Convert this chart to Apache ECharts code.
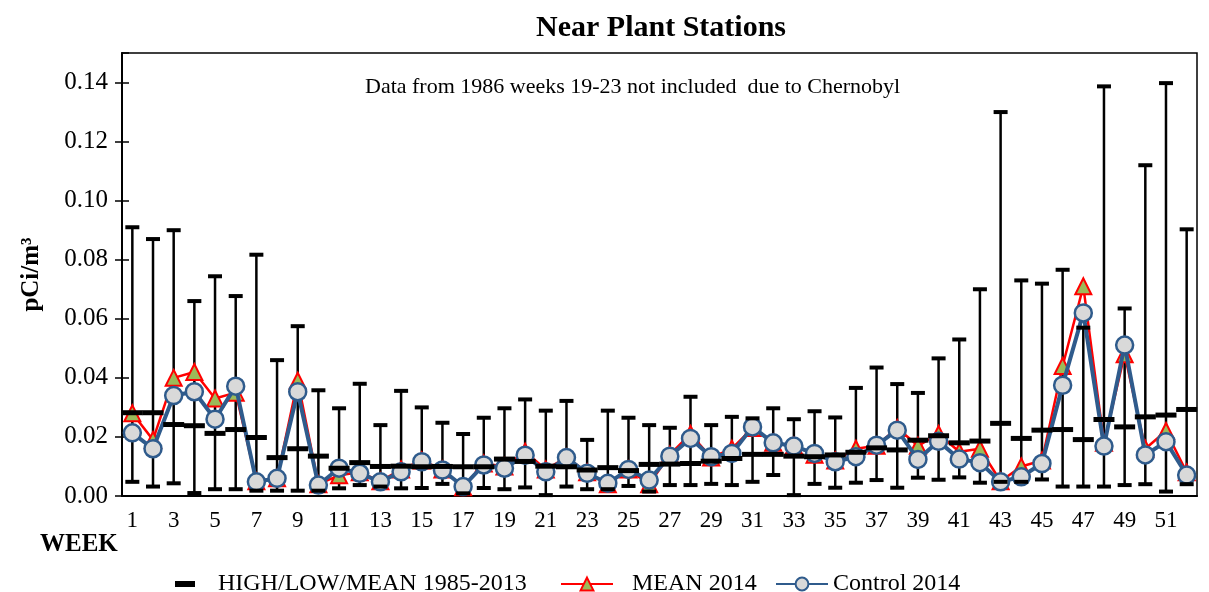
<!DOCTYPE html>
<html>
<head>
<meta charset="utf-8">
<script src="https://cdn.jsdelivr.net/npm/echarts@6/dist/echarts.min.js"></script>
<style>
  html, body { margin: 0; padding: 0; background: #fff; }
  #chart { width: 1209px; height: 592px; }
</style>
</head>
<body>
<div id="chart"></div>
<script>
var weeks = ['1','2','3','4','5','6','7','8','9','10','11','12','13','14','15','16','17','18','19','20',
  '21','22','23','24','25','26','27','28','29','30','31','32','33','34','35','36','37','38','39','40',
  '41','42','43','44','45','46','47','48','49','50','51','52'];

// 1985-2013 history
var high = [0.091,0.087,0.090,0.066,0.0744,0.0677,0.0817,0.046,0.0575,0.0358,0.0297,0.038,0.024,0.0356,0.030,0.0248,
  0.021,0.0265,0.0297,0.0327,0.0289,0.0322,0.019,0.0289,0.0265,0.024,0.0231,0.0336,0.024,0.0268,0.0263,0.0297,
  0.026,0.0287,0.0266,0.0366,0.0435,0.0379,0.0349,0.0466,0.053,0.070,0.130,0.073,0.0719,0.0766,0.057,0.1387,
  0.0635,0.112,0.1398,0.0903];
var low = [0.0048,0.0032,0.0043,0.001,0.0023,0.0023,0.0018,0.0018,0.0018,0.0018,0.0026,0.0037,0.0032,0.0026,0.0027,0.0041,
  0.0009,0.0027,0.0023,0.0029,0.0003,0.0032,0.0023,0.0023,0.0034,0.0015,0.0037,0.0037,0.0041,0.0037,0.0048,0.0071,
  0.0003,0.0041,0.0028,0.0045,0.0054,0.0028,0.0062,0.0055,0.0063,0.0045,0.0048,0.0048,0.0056,0.0032,0.0032,0.0032,
  0.0037,0.004,0.0015,0.004];
var histMean = [0.0282,0.0282,0.0242,0.0238,0.0212,0.0225,0.0198,0.013,0.016,0.0135,0.0094,0.0113,0.0100,0.0101,0.0099,0.0100,
  0.0099,0.0099,0.0125,0.0117,0.0101,0.0099,0.0088,0.0096,0.0086,0.0107,0.0108,0.0110,0.0118,0.0127,0.0141,0.0141,
  0.0135,0.0133,0.0139,0.0148,0.0163,0.0156,0.0189,0.0204,0.0180,0.0186,0.0246,0.0195,0.0223,0.0225,0.0191,0.0259,
  0.0234,0.0268,0.0274,0.0293];

// 2014
var mean2014 = [0.028,0.019,0.040,0.042,0.033,0.035,0.005,0.006,0.039,0.004,0.007,0.008,0.005,0.009,0.012,0.009,
  0.003,0.011,0.010,0.015,0.009,0.013,0.008,0.004,0.009,0.004,0.014,0.021,0.013,0.016,0.023,0.018,
  0.017,0.014,0.012,0.016,0.017,0.023,0.017,0.021,0.015,0.016,0.005,0.010,0.012,0.044,0.071,0.018,
  0.048,0.016,0.022,0.008];
var control2014 = [0.0214,0.016,0.034,0.0353,0.026,0.0372,0.0048,0.006,0.0353,0.0037,0.0094,0.0077,0.0048,0.0082,0.0116,0.0088,
  0.0032,0.0105,0.0094,0.0138,0.0082,0.013,0.0077,0.0043,0.009,0.0054,0.0135,0.0195,0.0133,0.0144,0.0234,0.018,
  0.0169,0.0144,0.0116,0.0133,0.0172,0.0223,0.0124,0.0185,0.0125,0.0113,0.0048,0.0065,0.011,0.0375,0.062,0.0169,
  0.0511,0.0139,0.0184,0.0071];

var serif = 'Liberation Serif';
var hlcData = weeks.map(function (w, i) { return [i, high[i], low[i], histMean[i]]; });

var myChart = echarts.init(document.getElementById('chart'));

function whiskerItem(params, api) {
  var hi = api.coord([api.value(0), api.value(1)]);
  var lo = api.coord([api.value(0), api.value(2)]);
  return {
    type: 'line',
    shape: { x1: hi[0], y1: hi[1], x2: lo[0], y2: lo[1] },
    style: { stroke: '#000', lineWidth: 2.5 }
  };
}

function capItem(params, api) {
  var hi = api.coord([api.value(0), api.value(1)]);
  var lo = api.coord([api.value(0), api.value(2)]);
  var mn = api.coord([api.value(0), api.value(3)]);
  return {
    type: 'group',
    children: [
      { type: 'rect', shape: { x: hi[0] - 7, y: hi[1] - 2, width: 14, height: 4 }, style: { fill: '#000' } },
      { type: 'rect', shape: { x: lo[0] - 7, y: lo[1] - 2, width: 14, height: 4 }, style: { fill: '#000' } },
      { type: 'rect', shape: { x: mn[0] - 10.5, y: mn[1] - 2.5, width: 21, height: 5 }, style: { fill: '#000' } }
    ]
  };
}

var option = {
  backgroundColor: '#fff',
  animation: false,
  title: {
    text: 'Near Plant Stations',
    left: 656,
    textAlign: 'center',
    top: 8,
    textStyle: { fontFamily: serif, fontWeight: 'bold', fontSize: 30, color: '#000' }
  },
  grid: {
    left: 122, right: 12, top: 53, bottom: 96,
    show: true, borderColor: '#000', borderWidth: 1.5
  },
  legend: [
    {
      left: 170, top: 567, itemWidth: 20, itemHeight: 6,
      data: [{ name: 'HIGH/LOW/MEAN 1985-2013', icon: 'rect', itemStyle: { color: '#000' } }],
      textStyle: { fontFamily: serif, fontSize: 24, color: '#000', padding: [0, 0, 0, 18] }
    },
    {
      left: 555, top: 567, itemWidth: 52, itemHeight: 16,
      data: ['MEAN 2014'],
      textStyle: { fontFamily: serif, fontSize: 24, color: '#000', padding: [0, 0, 0, 14] }
    },
    {
      left: 770, top: 567, itemWidth: 52, itemHeight: 16,
      data: ['Control 2014'],
      textStyle: { fontFamily: serif, fontSize: 24, color: '#000' }
    }
  ],
  xAxis: [
    {
      type: 'category',
      data: weeks,
      position: 'bottom',
      axisLine: { lineStyle: { color: '#000', width: 2 } },
      axisTick: { alignWithLabel: true, interval: 0, length: 5, lineStyle: { color: '#000', width: 1.5 } },
      axisLabel: { interval: 1, margin: 13, fontFamily: serif, fontSize: 23, color: '#000' }
    },
    {
      type: 'category',
      data: weeks,
      position: 'bottom',
      axisLine: { show: false },
      axisTick: { inside: true, interval: 0, length: 5, lineStyle: { color: '#000', width: 1.5 } },
      axisLabel: { show: false }
    }
  ],
  yAxis: [
    {
      type: 'value',
      min: 0, max: 0.15, interval: 0.02,
      name: 'pCi/m³',
      nameLocation: 'middle',
      nameRotate: 90,
      nameGap: 78,
      nameTextStyle: { fontFamily: serif, fontWeight: 'bold', fontSize: 25, color: '#000' },
      splitLine: { show: false },
      axisLine: { show: true, lineStyle: { color: '#000', width: 2 } },
      axisTick: { show: true, length: 7, lineStyle: { color: '#000', width: 1.5 } },
      axisLabel: {
        margin: 14, fontFamily: serif, fontSize: 25, color: '#000', showMaxLabel: false,
        formatter: function (v) { return v.toFixed(2); }
      }
    },
    {
      type: 'value',
      position: 'left',
      min: 0, max: 0.15, interval: 0.02,
      splitLine: { show: false },
      axisLine: { show: false },
      axisTick: { show: true, inside: true, length: 7, lineStyle: { color: '#000', width: 1.5 } },
      axisLabel: { show: false }
    }
  ],
  graphic: [
    {
      type: 'text', left: 40, top: 532,
      style: { text: 'WEEK', font: 'bold 25px "Liberation Serif"', fill: '#000' }
    },
    {
      type: 'text', left: 365, top: 76,
      style: { text: 'Data from 1986 weeks 19-23 not included  due to Chernobyl', font: '22px "Liberation Serif"', fill: '#000' }
    }
  ],
  series: [
    {
      name: 'whiskers',
      type: 'custom',
      renderItem: whiskerItem,
      data: hlcData,
      z: 1,
      silent: true
    },
    {
      name: 'MEAN 2014',
      type: 'line',
      data: mean2014,
      z: 2,
      symbol: 'triangle',
      symbolSize: 16,
      showAllSymbol: true,
      lineStyle: { color: '#ff0000', width: 2.5 },
      itemStyle: { color: '#9bbb59', borderColor: '#ff0000', borderWidth: 2 }
    },
    {
      name: 'Control 2014',
      type: 'line',
      data: control2014,
      z: 3,
      symbol: 'circle',
      symbolSize: 17,
      showAllSymbol: true,
      lineStyle: { color: '#2f5b8c', width: 4 },
      itemStyle: { color: '#d9d9d9', borderColor: '#2f5b8c', borderWidth: 2.5 }
    },
    {
      name: 'HIGH/LOW/MEAN 1985-2013',
      type: 'custom',
      renderItem: capItem,
      data: hlcData,
      z: 4,
      itemStyle: { color: '#000' }
    }
  ]
};

myChart.setOption(option);
</script>
</body>
</html>
